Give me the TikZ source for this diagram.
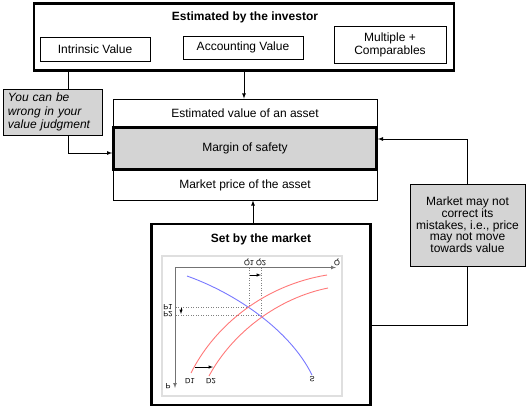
\documentclass[tikz,border=0pt]{standalone}
\usepackage{fontspec}
\setmainfont{Liberation Sans}
\usepackage{xcolor}
\usetikzlibrary{arrows}
\usetikzlibrary{arrows.meta}
\definecolor{notegray}{gray}{0.83}
\definecolor{axisgray}{gray}{0.45}
\definecolor{curvered}{RGB}{255,120,120}
\definecolor{curveblue}{RGB}{120,120,255}
\newcommand{\txtsize}{\fontsize{12}{13.3}\selectfont}

\begin{document}
\begin{tikzpicture}[x=1pt,y=-1pt]
\tikzstyle{every node}=[font=\txtsize]
\tikzstyle{box}=[draw,line width=0.8pt,inner sep=0pt,align=center]
\tikzstyle{heavy}=[draw,line width=2.6pt,inner sep=0pt]
\tikzstyle{note}=[draw,line width=0.8pt,fill=notegray,inner sep=0pt]
\tikzstyle{tag}=[font=\fontsize{7.5}{8}\selectfont,inner sep=0pt,yscale=-1]
\tikzstyle{link}=[line width=0.8pt]
\useasboundingbox (0,0) rectangle (527,410);
% investor side
\node[heavy,minimum width=420pt,minimum height=67pt] (invest) at (244,37) {};
\node[font=\txtsize\bfseries] (investT) at (245,17) {Estimated by the investor};
\node[box,minimum width=110pt,minimum height=24pt] (intr) at (95,49) {Intrinsic Value};
\node[box,minimum width=120pt,minimum height=23pt] (acct) at (243,47.5) {Accounting Value};
\node[box,minimum width=112pt,minimum height=37pt] (mult) at (390,45) {Multiple +\\Comparables};
\node[note,minimum width=99pt,minimum height=46pt,align=left,text width=89pt,font=\txtsize\itshape] (wrong) at (52.5,112) {You can be\\wrong in your\\value judgment};
% the stack
\node[box,minimum width=264pt,minimum height=28pt] (estv) at (245,113) {Estimated value of an asset};
\node[box,minimum width=264pt,minimum height=30pt] (price) at (245,185) {Market price of the asset};
\node[heavy,fill=notegray,minimum width=263pt,minimum height=42pt] (margin) at (245,148.5) {Margin of safety};
\node[note,minimum width=115pt,minimum height=82pt,align=center,font=\fontsize{12}{11.7}\selectfont] (nocorr) at (467.5,225) {Market may not\\correct its\\mistakes, i.e., price\\may not move\\towards value};
% market side
\node[heavy,minimum width=219pt,minimum height=181pt] (mkt) at (261,314.5) {};
\node[font=\txtsize\bfseries] (mktT) at (261,239) {Set by the market};
\coordinate (tapL) at (68,71);
\coordinate (upA) at (253,223);
% connectors
\draw[link] (tapL) -- (tapL |- wrong.north);
\path[link,->] (tapL |- wrong.south) edge [arrows={-latex},to path={|- (\tikztotarget)}] ([yshift=-4.5pt]margin.west);
\draw[link,arrows={-latex}] (invest.south) -- (invest.south |- estv.north);
\draw[link,arrows={-latex}] (upA) -- (upA |- price.south);
\draw[link] ([yshift=-10.5pt]mkt.east) -| (nocorr.south);
\draw[link,arrows={-latex}] (nocorr.north) |- ([yshift=9.5pt]margin.east);
% the (flipped) supply and demand chart
\draw[gray!25,line width=1.5pt] (162,256) rectangle (342,396);
\draw[axisgray,line width=0.7pt,arrows={-latex}] (175,267.5) -- (336,267.5);
\draw[axisgray,line width=0.7pt,arrows={-latex}] (175,267.5) -- (175,388);
\draw[gray,dotted,line width=0.5pt] (249,267.5) -- (249,307) -- (175,307);
\draw[gray,dotted,line width=0.5pt] (261,267.5) -- (261,315) -- (175,315);
\draw[curveblue,line width=0.9pt] (187,276) .. controls (235,293) and (290,330) .. (312,375);
\draw[curvered,line width=0.9pt] (191,373) .. controls (215,325) and (265,285) .. (327,275);
\draw[curvered,line width=0.9pt] (209,376) .. controls (232,333) and (278,298) .. (328,288);
\draw[line width=0.5pt,arrows={-latex}] (250,275) -- (261,275);
\draw[line width=0.5pt,arrows={-latex}] (181,308) -- (181,314);
\draw[line width=0.5pt,arrows={-latex}] (195,367) -- (213,367);
\node[tag] (qLab) at (337,262) {Q};
\node[tag] (q1Lab) at (249,262) {Q1};
\node[tag] (q2Lab) at (261,262) {Q2};
\node[tag] (pLab) at (168,386) {P};
\node[tag] (p1Lab) at (168,307) {P1};
\node[tag] (p2Lab) at (168,314.5) {P2};
\node[tag] (d1Lab) at (190,381) {D1};
\node[tag] (d2Lab) at (211,381) {D2};
\node[tag] (sLab) at (312,379) {S};
\end{tikzpicture}
\end{document}
